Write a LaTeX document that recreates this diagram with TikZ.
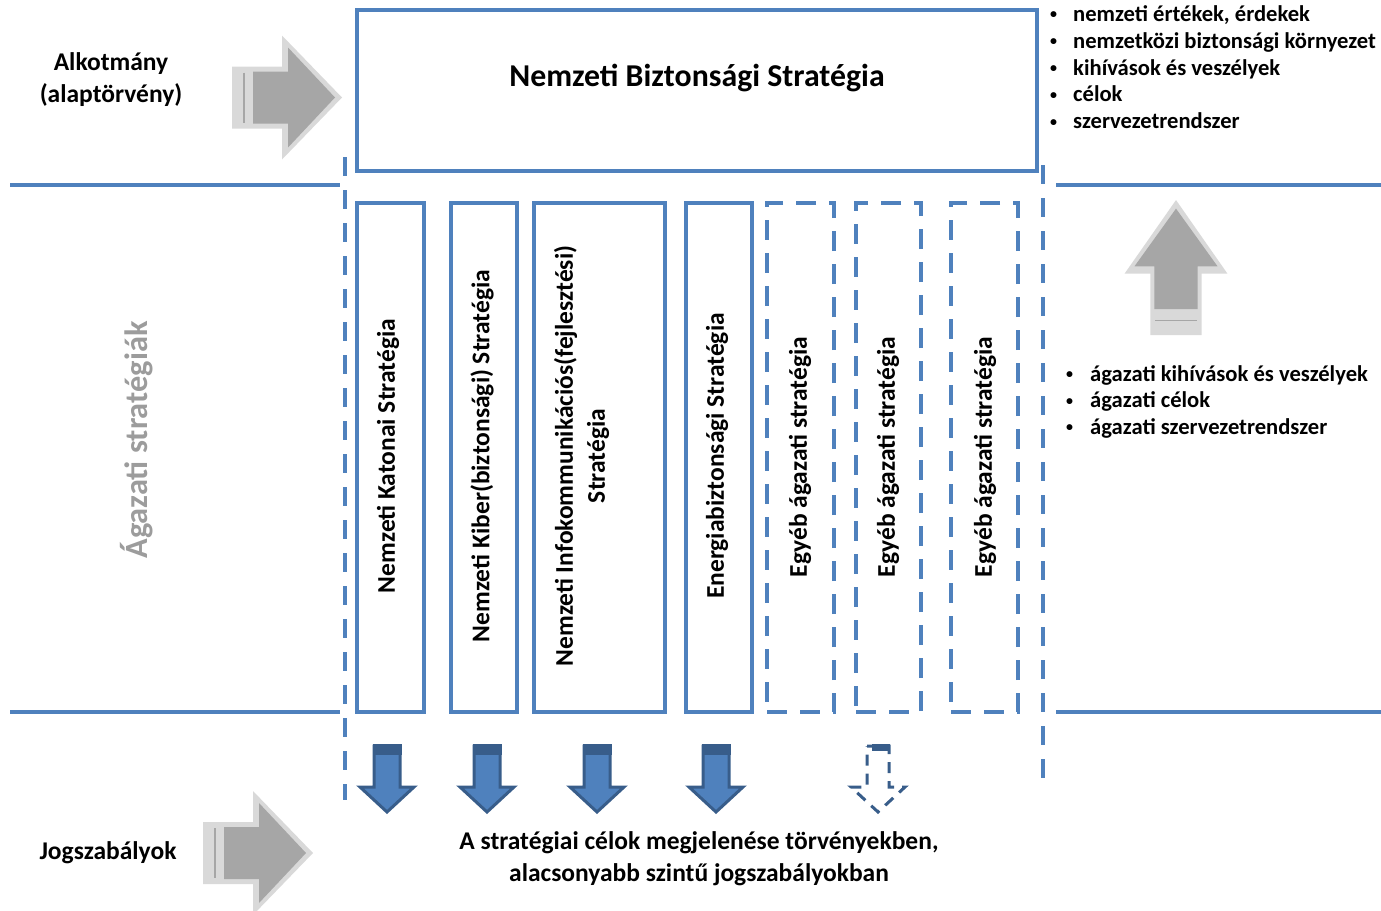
\documentclass[tikz,border=0pt]{standalone}
\usepackage{fontspec}
\setmainfont{Carlito}
\usetikzlibrary{positioning}
\definecolor{boxblue}{HTML}{4F81BD}
\definecolor{arrowblue}{HTML}{385D8A}
\definecolor{greydark}{HTML}{A6A6A6}
\definecolor{greylight}{HTML}{D9D9D9}
\definecolor{labelgrey}{HTML}{9C9C9C}
\newcommand{\bul}{\raisebox{2.5pt}{\fontsize{14}{14}\selectfont •}}
\tikzset{
  greyarrow/.pic={
    \fill[greylight] (0,-31) -- (50,-31) -- (50,-62) -- (110,0) -- (50,62) -- (50,31) -- (0,31) -- cycle;
    \fill[greydark] (21,-26) -- (56,-26) -- (56,-50) -- (103,0) -- (56,50) -- (56,26) -- (21,26) -- cycle;
    \draw[greydark, line width=1.5pt] (12,-25) -- (12,25);
  },
  bluearrow/.pic={
    \filldraw[fill=boxblue, draw=arrowblue, line width=3pt, line join=miter]
      (-13,2) -- (13,2) -- (13,43) -- (27,43) -- (0,68) -- (-27,43) -- (-13,43) -- cycle;
    \fill[arrowblue] (-14.5,0) rectangle (14.5,11);
  },
  dashedarrow/.pic={
    \draw[arrowblue, line width=3pt, dash pattern=on 11pt off 8pt]
      (-11,2) -- (11,2) -- (11,43) -- (27,43) -- (0,68) -- (-27,43) -- (-11,43) -- cycle;
    \fill[arrowblue] (-6,0) rectangle (12,7);
  }
}
\begin{document}
\begin{tikzpicture}[x=1pt, y=-1pt,
    sbox/.style={draw=boxblue, line width=4pt, inner sep=0pt},
    dbox/.style={sbox, dash pattern=on 20pt off 13pt},
    lbl/.style={font=\fontsize{25.5}{32}\selectfont\bfseries, align=center},
    vlbl/.style={lbl, rotate=90},
    sepline/.style={boxblue, line width=3.5pt},
    vdash/.style={boxblue, line width=4pt, dash pattern=on 19pt off 14pt},
    bullets/.style={font=\bfseries, inner sep=0pt, anchor=base west}]
  \useasboundingbox (0,0) rectangle (1381,910);

  % separators
  \draw[sepline] (10,185) -- (340,185);
  \draw[sepline] (1056,185) -- (1381,185);
  \draw[sepline] (10,712) -- (340,712);
  \draw[sepline] (1056,712) -- (1381,712);
  \draw[vdash] (345,157) -- (345,800);
  \draw[vdash] (1043,165) -- (1043,780);

  % national strategy
  \node[sbox, minimum width=680pt, minimum height=161pt] (nbs) at (697,90.5) {};
  \node[lbl, font=\fontsize{31.8}{36}\selectfont\bfseries] (nbstitle) at (697,78) {Nemzeti Biztonsági Stratégia};

  % sector strategies
  \node[sbox, minimum width=67pt, minimum height=509pt] (katonai) at (390.5,457.5) {};
  \node[sbox, minimum width=66pt, minimum height=509pt] (kiber) at (484,457.5) {};
  \node[sbox, minimum width=131pt, minimum height=509pt] (info) at (599.5,457.5) {};
  \node[sbox, minimum width=66pt, minimum height=509pt] (energia) at (719,457.5) {};
  \node[dbox, minimum width=67pt, minimum height=509pt] (egyeb1) at (800.5,457.5) {};
  \node[dbox, minimum width=65pt, minimum height=509pt] (egyeb2) at (888.5,457.5) {};
  \node[dbox, minimum width=67pt, minimum height=509pt] (egyeb3) at (984.5,457.5) {};

  \node[vlbl] (katonaitext) at (388,456) {Nemzeti Katonai Stratégia};
  \node[vlbl] (kibertext) at (482,456) {Nemzeti Kiber(biztonsági) Stratégia};
  \node[vlbl] (infotext) at (581.5,456) {Nemzeti Infokommunikációs(fejlesztési)\\Stratégia};
  \node[vlbl] (energiatext) at (717,456) {Energiabiztonsági Stratégia};
  \node[vlbl] (egyeb1text) at (800,457) {Egyéb ágazati stratégia};
  \node[vlbl] (egyeb2text) at (888,457) {Egyéb ágazati stratégia};
  \node[vlbl] (egyeb3text) at (985,457) {Egyéb ágazati stratégia};

  % arrows
  \pic at (232,97.5) {greyarrow};
  \pic at (203,853) {greyarrow};
  \pic[rotate=90, xscale=1.227, yscale=0.83] at (1176,335) {greyarrow};
  \pic at (387,744) {bluearrow};
  \pic at (487,744) {bluearrow};
  \pic at (597,744) {bluearrow};
  \pic at (716,744) {bluearrow};
  \pic at (878,744) {dashedarrow};

  % labels
  \node[lbl] (alkotmany) at (111,80) {Alkotmány\\(alaptörvény)};
  \node[lbl] (jogszabalyok) at (108,853) {Jogszabályok};
  \node[lbl, rotate=90, text=labelgrey, font=\fontsize{32.4}{36}\selectfont\bfseries] (agazati) at (137,440) {Ágazati stratégiák};
  \node[lbl] (celok) at (699,859) {A stratégiai célok megjelenése törvényekben,\\alacsonyabb szintű jogszabályokban};

  \node[bullets] (nbslist) at (1050,21.5) {\fontsize{22.6}{26.8}\selectfont\begin{tabular}[t]{@{}p{23pt}@{}l@{}}
    \bul & nemzeti értékek, érdekek\\
    \bul & nemzetközi biztonsági környezet\\
    \bul & kihívások és veszélyek\\
    \bul & célok\\
    \bul & szervezetrendszer
  \end{tabular}};
  \node[bullets] (agazatilist) at (1066,381) {\fontsize{22.6}{26.5}\selectfont\begin{tabular}[t]{@{}p{24pt}@{}l@{}}
    \bul & ágazati kihívások és veszélyek\\
    \bul & ágazati célok\\
    \bul & ágazati szervezetrendszer
  \end{tabular}};
\end{tikzpicture}
\end{document}
